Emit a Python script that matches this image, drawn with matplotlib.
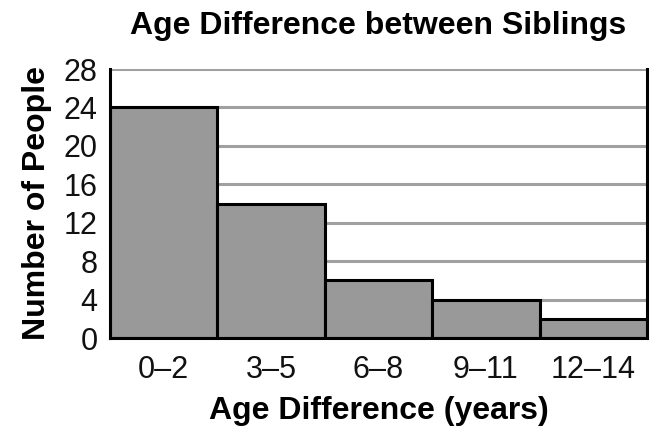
import matplotlib
matplotlib.use("Agg")
import matplotlib.pyplot as plt

# histogram-like bar chart of sibling age gaps
categories = ["0\u20132", "3\u20135", "6\u20138", "9\u201311", "12\u201314"]
counts = [24, 14, 6, 4, 2]
yticks = [0, 4, 8, 12, 16, 20, 24, 28]

plt.rcParams["font.family"] = ["Liberation Sans", "DejaVu Sans"]

fig = plt.figure(figsize=(6.68, 4.38), dpi=100)
ax = fig.add_axes([110 / 668, 100 / 438, 537 / 668, 269 / 438])

xs = list(range(len(categories)))
ax.bar(xs, counts, width=1.0, align="edge", color="#999999",
       edgecolor="black", linewidth=2.2, zorder=3)

ax.set_xlim(0, len(categories))
ax.set_ylim(0, 28)
ax.set_yticks(yticks)
ax.set_xticks([x + 0.5 for x in xs])
ax.set_xticklabels(categories)
ax.tick_params(axis="both", length=0, labelsize=22, colors="#111111")
ax.tick_params(axis="x", pad=12)
ax.tick_params(axis="y", pad=9)

ax.yaxis.grid(True, color="#a0a0a0", linewidth=2.2, zorder=0)
ax.set_axisbelow(True)

ax.spines["top"].set_visible(False)
for side in ["left", "right", "bottom"]:
    ax.spines[side].set_linewidth(2.2)
    ax.spines[side].set_color("black")
    ax.spines[side].set_zorder(4)

ax.set_title("Age Difference between Siblings", fontsize=23, fontweight="bold",
             pad=25)
ax.set_xlabel("Age Difference (years)", fontsize=23, fontweight="bold",
              labelpad=8)
ax.set_ylabel("Number of People", fontsize=23, fontweight="bold", labelpad=8)

fig.savefig("out.png", dpi=100)
